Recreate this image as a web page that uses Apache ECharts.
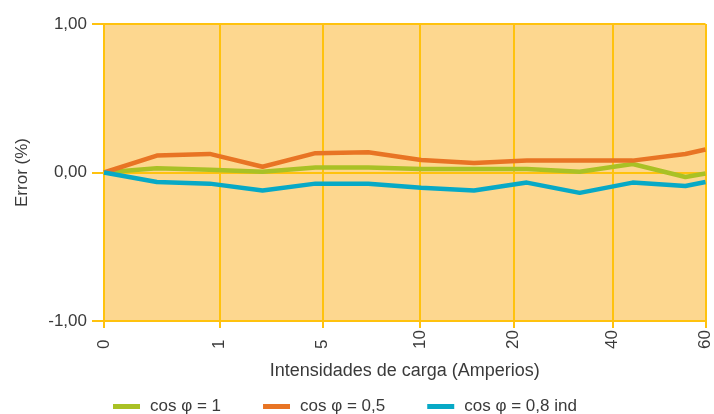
<!DOCTYPE html>
<html>
<head>
<meta charset="utf-8">
<script src="https://cdn.jsdelivr.net/npm/echarts@6/dist/echarts.min.js"></script>
<style>
  html, body { margin: 0; padding: 0; background: #fff; }
  #chart { width: 714px; height: 414px; }
</style>
</head>
<body>
<div id="chart"></div>
<script>
  // posiciones de las muestras sobre el eje x (escala del gráfico original)
  const samplePos = [0, 1, 2, 3, 4, 5, 6, 7, 8, 9, 10, 11, 11.38];
  // marcas del eje x y sus rótulos
  const tickPos = [0, 2.19, 4.13, 5.98, 7.75, 9.62, 11.38];
  const tickLabels = ['0', '1', '5', '10', '20', '40', '60'];
  const yTicks = [-1, 0, 1];

  // errores (%)
  const cos1 = [0, 0.029, 0.018, 0.005, 0.034, 0.034, 0.023, 0.023, 0.023, 0.005, 0.057, -0.03, -0.007];
  const cos05 = [0, 0.114, 0.125, 0.039, 0.13, 0.137, 0.084, 0.064, 0.08, 0.08, 0.08, 0.125, 0.155];
  const cos08 = [0, -0.064, -0.075, -0.121, -0.075, -0.075, -0.103, -0.121, -0.068, -0.137, -0.068, -0.091, -0.064];

  const seriesNames = ['cos \u03c6 = 1', 'cos \u03c6 = 0,5', 'cos \u03c6 = 0,8 ind'];
  const colors = ['#A9C125', '#E87424', '#07A9C6'];

  const gridColor = '#FFC20E';
  const font = "'Liberation Sans', Arial, sans-serif";
  const textColor = '#3a3a3a';

  function pairs(vals) {
    return vals.map((v, i) => [samplePos[i], v]);
  }

  const chart = echarts.init(document.getElementById('chart'));
  chart.setOption({
    animation: false,
    color: colors,
    textStyle: { fontFamily: font },
    grid: {
      left: 104, right: 6, top: 24, bottom: 93,
      show: true,
      backgroundColor: '#FDD78F',
      borderWidth: 0
    },
    legend: {
      data: seriesNames,
      left: 108,
      top: 393,
      icon: 'rect',
      itemWidth: 27,
      itemHeight: 5,
      itemGap: 42,
      textStyle: { fontSize: 17, color: textColor, padding: [0, 0, 0, 5] }
    },
    xAxis: {
      type: 'value',
      min: 0,
      max: tickPos[tickPos.length - 1],
      name: 'Intensidades de carga (Amperios)',
      nameLocation: 'middle',
      nameGap: 41,
      nameTextStyle: { fontSize: 18, color: textColor },
      axisLine: { show: true, onZero: false, lineStyle: { color: gridColor, width: 2 } },
      axisTick: { show: true, length: 7, customValues: tickPos, lineStyle: { color: gridColor, width: 2 } },
      axisLabel: {
        customValues: tickPos,
        rotate: 90,
        align: 'left',
        margin: 28,
        fontSize: 17,
        color: textColor,
        formatter: v => {
          const i = tickPos.findIndex(t => Math.abs(t - v) < 1e-6);
          return i >= 0 ? tickLabels[i] : '';
        }
      },
      splitLine: { show: true, lineStyle: { color: gridColor, width: 2 } }
    },
    yAxis: {
      type: 'value',
      min: yTicks[0],
      max: yTicks[yTicks.length - 1],
      interval: 1,
      name: 'Error (%)',
      nameLocation: 'middle',
      nameGap: 73,
      nameTextStyle: { fontSize: 17, color: textColor },
      axisLine: { show: true, lineStyle: { color: gridColor, width: 2 } },
      axisTick: { show: true, length: 12, lineStyle: { color: gridColor, width: 2 } },
      axisLabel: {
        margin: 17,
        fontSize: 17,
        color: textColor,
        formatter: v => v.toFixed(2).replace('.', ',')
      },
      splitLine: { show: true, lineStyle: { color: gridColor, width: 2 } }
    },
    series: [
      { name: seriesNames[0], type: 'line', data: pairs(cos1), symbol: 'none', lineStyle: { width: 4.5 } },
      { name: seriesNames[1], type: 'line', data: pairs(cos05), symbol: 'none', lineStyle: { width: 4.5 } },
      { name: seriesNames[2], type: 'line', data: pairs(cos08), symbol: 'none', lineStyle: { width: 4.5 } }
    ]
  });
</script>
</body>
</html>
